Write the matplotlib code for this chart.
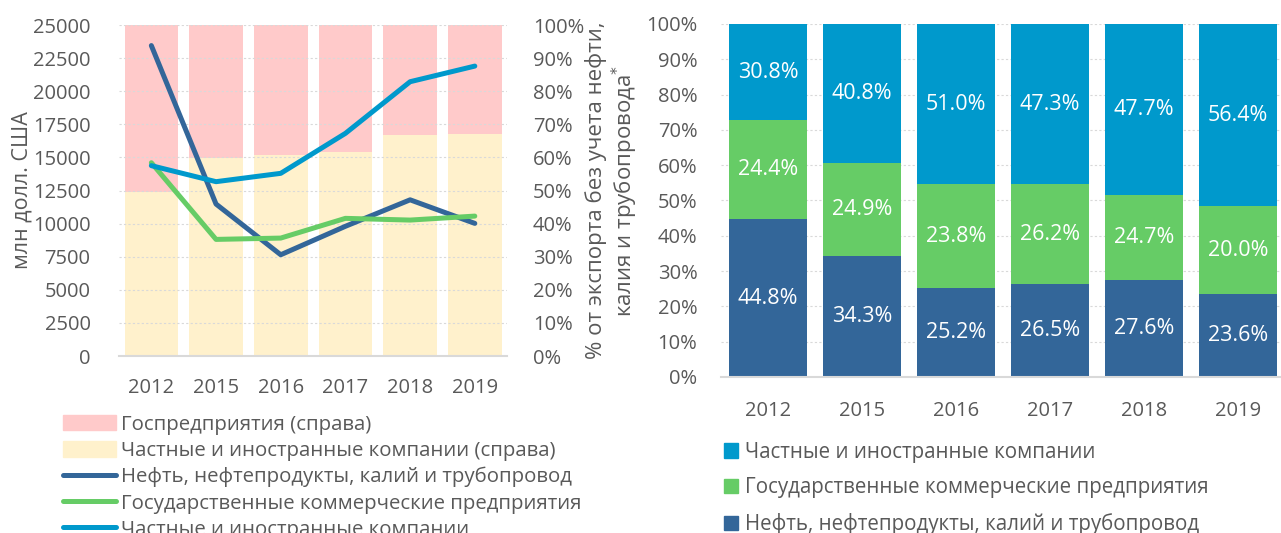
import numpy as np
import matplotlib
matplotlib.use('Agg')
import matplotlib.pyplot as plt
from matplotlib.patches import Patch
from matplotlib.lines import Line2D
from matplotlib.ticker import PercentFormatter, MultipleLocator

plt.rcParams['font.family'] = ['Open Sans', 'DejaVu Sans']

years = ['2012', '2015', '2016', '2017', '2018', '2019']

# левый график: доли (справа, %) и объёмы (слева, млн долл.)
share_private = [49.5, 59.9, 60.6, 61.6, 66.7, 67.2]
share_gov = [100 - v for v in share_private]
oil = [23450, 11480, 7650, 9800, 11800, 10020]
gov_com = [14600, 8810, 8910, 10400, 10270, 10570]
private = [14380, 13170, 13800, 16820, 20720, 21900]

# правый график: высоты сегментов (как нарисовано) и подписи
h_oil = [44.7, 34.2, 25.1, 26.4, 27.4, 23.5]
h_gov = [28.0, 26.4, 29.5, 28.2, 24.1, 24.9]
h_private = [100 - a - b for a, b in zip(h_oil, h_gov)]
lab_oil = [44.8, 34.3, 25.2, 26.5, 27.6, 23.6]
lab_gov = [24.4, 24.9, 23.8, 26.2, 24.7, 20.0]
lab_private = [30.8, 40.8, 51.0, 47.3, 47.7, 56.4]

c_pink = '#FFCACA'
c_yellow = '#FFF1CC'
c_dark = '#336699'
c_green = '#66CC66'
c_light = '#0099CC'
c_text = '#595959'
c_grid = '#D9D9D9'

fig = plt.figure(figsize=(12.81, 5.33), dpi=100)
x = np.arange(len(years))

# ---------- левый ----------
ax = fig.add_axes([0.0929, 0.332, 0.303, 0.621])
axl = ax.twinx()

ax.bar(x, share_private, width=0.83, color=c_yellow, zorder=1)
ax.bar(x, share_gov, bottom=share_private, width=0.83, color=c_pink, zorder=1)
ax.set_xlim(-0.5, 5.5)
ax.set_ylim(0, 100)
ax.yaxis.set_major_locator(MultipleLocator(10))
ax.yaxis.set_major_formatter(PercentFormatter(decimals=0))
ax.grid(axis='y', color=c_grid, linestyle=(0, (2, 2)), linewidth=0.8, zorder=2)
ax.set_axisbelow(False)
ax.set_xticks(x)
ax.set_xticklabels(years)
ax.tick_params(axis='x', length=0, pad=16, labelsize=14.5, labelcolor=c_text)
for s in ax.spines.values():
    s.set_visible(False)
ax.spines['bottom'].set_visible(True)
ax.spines['bottom'].set_color(c_grid)
ax.spines['bottom'].set_linewidth(1.5)

lw = 3.6
axl.plot(x, oil, color=c_dark, lw=lw, solid_capstyle='round', solid_joinstyle='round')
axl.plot(x, gov_com, color=c_green, lw=lw, solid_capstyle='round', solid_joinstyle='round')
axl.plot(x, private, color=c_light, lw=lw, solid_capstyle='round', solid_joinstyle='round')
axl.set_ylim(0, 25000)
axl.yaxis.set_major_locator(MultipleLocator(2500))
for s in axl.spines.values():
    s.set_visible(False)

# проценты справа, объёмы слева
ax.yaxis.tick_right()
ax.yaxis.set_label_position('right')
axl.yaxis.tick_left()
axl.yaxis.set_label_position('left')
ax.tick_params(axis='y', which='both', left=False, right=False, labelleft=False,
               labelright=True, pad=15, labelsize=14.5, labelcolor=c_text)
axl.tick_params(axis='y', which='both', left=False, right=False, labelleft=True,
                labelright=False, pad=17, labelsize=14.5, labelcolor=c_text)
ax.set_ylabel('% от экспорта без учета нефти,\nкалия и трубопровода$^{*}$',
              fontsize=16, color=c_text, labelpad=1, linespacing=1.1)
axl.set_ylabel('млн долл. США', fontsize=15.5, color=c_text, labelpad=0)

handles = [Patch(color=c_pink), Patch(color=c_yellow),
           Line2D([], [], color=c_dark, lw=lw, solid_capstyle='round'),
           Line2D([], [], color=c_green, lw=lw, solid_capstyle='round'),
           Line2D([], [], color=c_light, lw=lw, solid_capstyle='round')]
labels = ['Госпредприятия (справа)', 'Частные и иностранные компании (справа)',
          'Нефть, нефтепродукты, калий и трубопровод',
          'Государственные коммерческие предприятия',
          'Частные и иностранные компании']
fig.legend(handles, labels, loc='upper left', bbox_to_anchor=(0.049, 0.222),
           frameon=False, fontsize=14.7, labelcolor=c_text, handlelength=2.6,
           handleheight=0.8, handletextpad=0.25, labelspacing=0.3,
           borderpad=0, borderaxespad=0)

# ---------- правый ----------
bx = fig.add_axes([0.5628, 0.2927, 0.4403, 0.6623])
b1 = bx.bar(x, h_oil, width=0.83, color=c_dark, zorder=2)
b2 = bx.bar(x, h_gov, bottom=h_oil, width=0.83, color=c_green, zorder=2)
bot = [a + b for a, b in zip(h_oil, h_gov)]
b3 = bx.bar(x, h_private, bottom=bot, width=0.83, color=c_light, zorder=2)
for bars, vals in [(b1, lab_oil), (b2, lab_gov), (b3, lab_private)]:
    bx.bar_label(bars, labels=['%.1f%%' % v for v in vals], label_type='center',
                 color='white', fontsize=15.5)
bx.set_xlim(-0.5, 5.5)
bx.set_ylim(0, 100)
bx.yaxis.set_major_locator(MultipleLocator(10))
bx.yaxis.set_major_formatter(PercentFormatter(decimals=0))
bx.grid(axis='y', color=c_grid, linestyle=(0, (2, 2)), linewidth=0.8, zorder=0)
bx.set_axisbelow(True)
bx.set_xticks(x)
bx.set_xticklabels(years)
bx.tick_params(axis='y', length=0, pad=17, labelsize=14.5, labelcolor=c_text)
bx.tick_params(axis='x', length=0, pad=17, labelsize=14.5, labelcolor=c_text)
for s in ['top', 'left', 'right']:
    bx.spines[s].set_visible(False)
bx.spines['bottom'].set_color(c_grid)
bx.spines['bottom'].set_linewidth(1.5)

h2 = [Patch(color=c_light), Patch(color=c_green), Patch(color=c_dark)]
l2 = ['Частные и иностранные компании', 'Государственные коммерческие предприятия',
      'Нефть, нефтепродукты, калий и трубопровод']
fig.legend(h2, l2, loc='upper left', bbox_to_anchor=(0.565, 0.171),
           frameon=False, fontsize=14.8, labelcolor=c_text, handlelength=0.7,
           handleheight=0.7, handletextpad=0.35, labelspacing=0.71,
           borderpad=0, borderaxespad=0)

fig.savefig('out.png', dpi=100)
